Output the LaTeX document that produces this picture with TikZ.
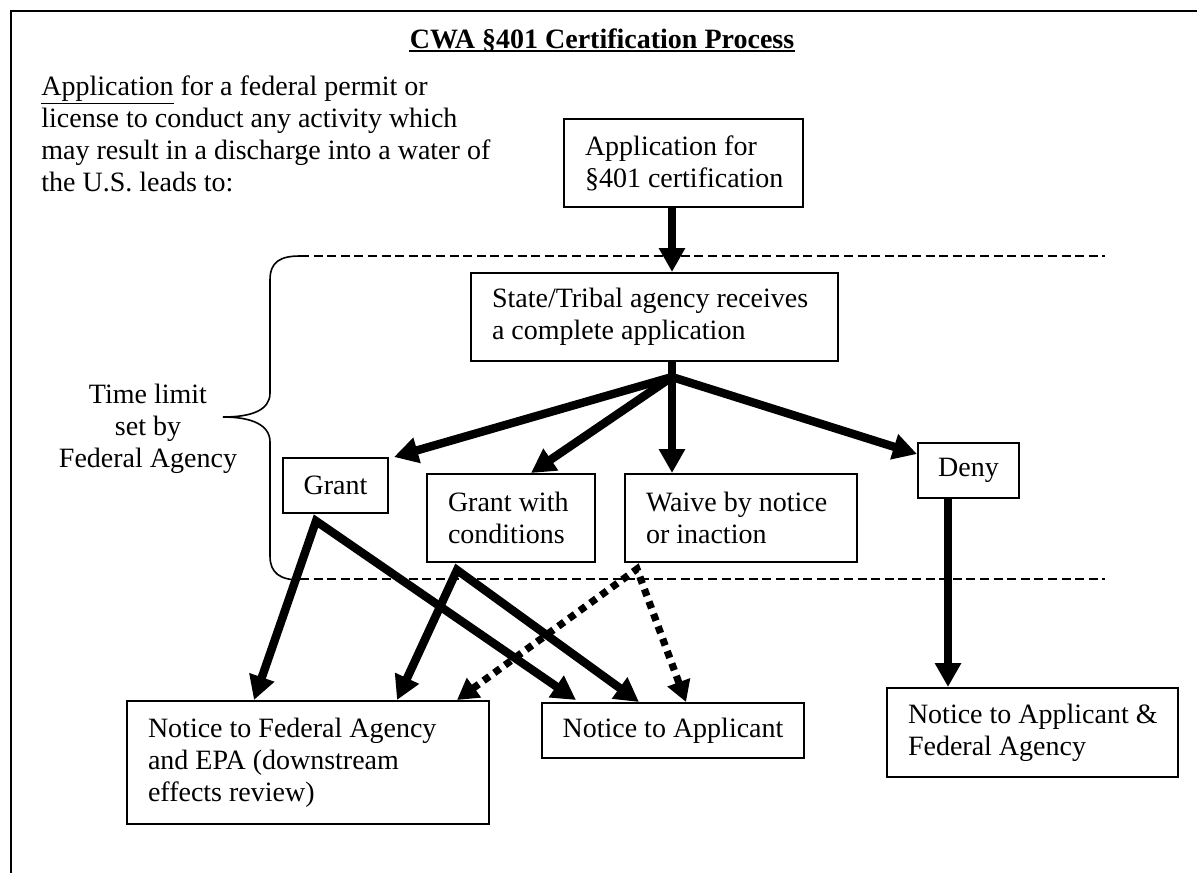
\documentclass[tikz,border=0pt]{standalone}
\usepackage{fontspec}
\setmainfont{Liberation Serif}
\usetikzlibrary{arrows.meta,calc}
\newcommand\tline[1]{\mbox{\spaceskip=0pt\relax\xspaceskip=0pt\relax #1}}
\begin{document}
\begin{tikzpicture}[x=0.5pt,y=-0.5pt,
  every node/.style={font=\fontsize{14}{16}\selectfont},
  box/.style={draw, line width=1pt, inner xsep=10.5pt, inner ysep=0pt, align=left},
  cbox/.style={draw, line width=1pt, inner xsep=0pt, inner ysep=0pt, align=center},
  bigarrow/.style={line width=4.2pt, line join=miter, -{Triangle[length=12pt,width=12.5pt]}},
  twoarrow/.style={line width=4.2pt, line join=miter, {Triangle[length=12pt,width=12.5pt]}-{Triangle[length=12pt,width=12.5pt]}},
  dotarrow/.style={line width=3.6pt, line join=miter, dash pattern=on 3.6pt off 3pt, {Triangle[length=10.5pt,width=11.5pt]}-{Triangle[length=10.5pt,width=11.5pt]}},
  sepline/.style={line width=1.3pt, dash pattern=on 4.5pt off 2.3pt},
  bracestyle/.style={line width=0.8pt},
  frame/.style={line width=1.1pt}
]
\useasboundingbox (0,0) rectangle (1197,873);
\draw[frame] (1197,11) -- (11,11) -- (11,873);

% title
\node[font=\fontsize{14}{16}\selectfont\bfseries, inner sep=0pt, anchor=base] (title) at (602,48) {CWA §401 Certification Process};
\draw[line width=1pt] ([yshift=-1.6pt]title.base west) -- ([yshift=-1.6pt]title.base east);

% intro text
\node[inner sep=0pt, anchor=north west, align=left] (intro) at (41,75)
  {\tline{\underline{Application} for a federal permit or}\\ \tline{license to conduct any activity which}\\ \tline{may result in a discharge into a water of}\\ \tline{the U.S. leads to:}};

% boxes
\node[box, minimum width=119.5pt, minimum height=44pt, text width=98.5pt] (app) at (683.5,163) {\tline{Application for}\\ \tline{§401 certification}};
\node[box, minimum width=183.5pt, minimum height=44pt, text width=162.5pt] (state) at (654.5,317) {\tline{State/Tribal agency receives}\\ \tline{a complete application}};
\node[cbox, minimum width=52.5pt, minimum height=27.5pt] (grant) at (335.5,485.5) {Grant};
\node[box, minimum width=84pt, minimum height=44pt, text width=63pt] (gwc) at (511,518) {\tline{Grant with}\\ \tline{conditions}};
\node[box, minimum width=116pt, minimum height=44pt, text width=95pt] (waive) at (741,518) {\tline{Waive by notice}\\ \tline{or inaction}};
\node[cbox, minimum width=50.5pt, minimum height=27.5pt] (deny) at (968.5,470.5) {Deny};
\node[box, minimum width=181pt, minimum height=61.5pt, text width=160pt] (nf) at (308,762.5) {\tline{Notice to Federal Agency}\\ \tline{and EPA (downstream}\\ \tline{effects review)}};
\node[cbox, minimum width=131pt, minimum height=27.5pt] (na) at (673,730.5) {\tline{Notice to Applicant}};
\node[box, minimum width=145.5pt, minimum height=44.5pt, text width=124.5pt] (naf) at (1032.5,732.5) {\tline{Notice to Applicant \&}\\ \tline{Federal Agency}};

% time limit bracket
\node[align=center, inner sep=0pt] (tl) at (148,429) {\tline{Time limit}\\ \tline{set by}\\ \tline{Federal Agency}};
\coordinate (bt) at (300,256);
\coordinate (bb) at (300,580);
\coordinate (btip) at (223,417);
\coordinate (d1r) at (1105,256);
\coordinate (d2r) at (1105,579);
\draw[sepline] (bt) -- (d1r);
\draw[sepline] ([yshift=0.5pt]bb) -- (d2r);
\draw[bracestyle] (bt) .. controls (280,256) and (270,262) .. (270,280) -- (270,393)
  .. controls (270,410) and (252,417) .. (btip)
  .. controls (252,417) and (270,425) .. (270,442) -- (270,556)
  .. controls (270,573) and (280,580) .. (bb);

% arrows
\coordinate (ax) at (672,0);
\coordinate (fan) at (672,377);
\draw[bigarrow] (app.south -| ax) -- (state.north -| ax);
\draw[line width=4.2pt] (state.south -| ax) -- ([yshift=-2pt]fan);
\draw[bigarrow, line cap=round] (fan) -- ([xshift=2.5pt]grant.north east);
\draw[bigarrow, line cap=round] (fan) -- ($(gwc.north west)+(105,0)$);
\draw[bigarrow] (fan) -- (waive.north -| ax);
\draw[bigarrow, line cap=round] (fan) -- ($(deny.north west)+(0,12)$);

\coordinate (ga) at ($(grant.south west)+(34,7)$);
\coordinate (gb) at ($(gwc.south west)+(31,7)$);
\coordinate (gc) at ($(waive.south west)+(13,6)$);
\draw[twoarrow] ($(nf.north west)+(128,0)$) -- (ga) -- ($(na.north west)+(35,-2)$);
\draw[twoarrow] ($(nf.north west)+(271,0)$) -- (gb) -- ($(na.north west)+(98,0)$);
\draw[dotarrow] ($(nf.north west)+(331,0)$) -- (gc) -- ($(na.north west)+(145,0)$);
\draw[bigarrow] ($(deny.south west)+(31,0)$) -- ($(naf.north west)+(62,0)$);
\end{tikzpicture}
\end{document}
